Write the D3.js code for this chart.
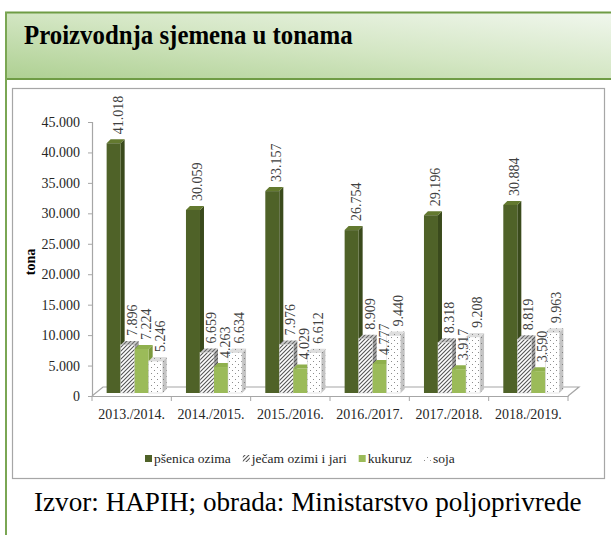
<!DOCTYPE html>
<html><head><meta charset="utf-8">
<script src="https://cdn.jsdelivr.net/npm/d3@7/dist/d3.min.js"></script>
<style>
html,body{margin:0;padding:0;background:#fff;}
svg{display:block;}
text{font-family:"Liberation Serif","Times New Roman",serif;}
</style></head>
<body>
<svg id="c" width="611" height="535"></svg>
<script>
const title = "Proizvodnja sjemena u tonama";
const source = "Izvor: HAPIH; obrada: Ministarstvo poljoprivrede";
const yTitle = "tona";
const categories = ["2013./2014.","2014./2015.","2015./2016.","2016./2017.","2017./2018.","2018./2019."];
const seriesNames = ["pšenica ozima","ječam ozimi i jari","kukuruz","soja"];
const psenica = [41018,30059,33157,26754,29196,30884];
const jecam = [7896,6659,7976,8909,8318,8819];
const kukuruz = [7224,4263,4029,4777,3917,3590];
const soja = [5246,6634,6612,9440,9208,9963];
const yTicks = [0,5000,10000,15000,20000,25000,30000,35000,40000,45000];

const seriesValues = [psenica, jecam, kukuruz, soja];
const loc = d3.formatLocale({decimal:",", thousands:".", grouping:[3], currency:["",""]});
const fmt = loc.format(",d");

const svg = d3.select("#c");
const defs = svg.append("defs");

const g1 = defs.append("linearGradient").attr("id","hdr").attr("x1","0").attr("y1","1").attr("x2","1").attr("y2","0");
g1.append("stop").attr("offset","0").attr("stop-color","#aed092");
g1.append("stop").attr("offset","0.5").attr("stop-color","#d3e6c3");
g1.append("stop").attr("offset","1").attr("stop-color","#f1f7ee");

function hatch(id, bg, fg){
  const p = defs.append("pattern").attr("id",id).attr("patternUnits","userSpaceOnUse").attr("width",4).attr("height",4);
  p.append("rect").attr("width",4).attr("height",4).attr("fill",bg);
  p.append("path").attr("d","M-1,1 L1,-1 M0,4 L4,0 M3,5 L5,3").attr("stroke",fg).attr("stroke-width",1.1);
}
function dots(id, bg, fg){
  const p = defs.append("pattern").attr("id",id).attr("patternUnits","userSpaceOnUse").attr("width",6).attr("height",6);
  p.append("rect").attr("width",6).attr("height",6).attr("fill",bg);
  p.append("rect").attr("x",1).attr("y",1).attr("width",1).attr("height",1).attr("fill",fg);
  p.append("rect").attr("x",4).attr("y",4).attr("width",1).attr("height",1).attr("fill",fg);
}
hatch("hF","#ffffff","#555555");
hatch("hS","#a6a6a6","#555555");
hatch("hT","#cfcfcf","#666666");
dots("dF","#ffffff","#8c8c8c");
dots("dS","#c4c4c4","#808080");
dots("dT","#dedede","#8c8c8c");

const styles = [
  {front:"#4f6228", side:"#3a4a1c", top:"#63792f", legend:"#4f6228"},
  {front:"url(#hF)", side:"url(#hS)", top:"url(#hT)", legend:"url(#hF)"},
  {front:"#9bbb59", side:"#7c9a3e", top:"#8fb04d", legend:"#9bbb59"},
  {front:"url(#dF)", side:"url(#dS)", top:"url(#dT)", legend:"url(#dF)"}
];

// Frame
svg.append("rect").attr("x",6).attr("y",12).attr("width",610).attr("height",67).attr("fill","url(#hdr)");
svg.append("line").attr("x1",5).attr("x2",611).attr("y1",12.5).attr("y2",12.5).attr("stroke","#6f9c45").attr("stroke-width",2);
svg.append("line").attr("x1",5).attr("x2",611).attr("y1",79).attr("y2",79).attr("stroke","#6f9c45").attr("stroke-width",2);
svg.append("line").attr("x1",6).attr("x2",6).attr("y1",12).attr("y2",535).attr("stroke","#7aa653").attr("stroke-width",2);
svg.append("text").attr("transform","translate(24,44) scale(0.92,1)").attr("font-size",27).attr("font-weight","bold").attr("fill","#000").text(title);

svg.append("rect").attr("x",12.5).attr("y",88.5).attr("width",592).attr("height",390).attr("fill","#fff").attr("stroke","#a6a6a6").attr("stroke-width",1.2);

svg.append("text").attr("transform","translate(34,511) scale(0.97,1)").attr("font-size",28).attr("fill","#000").text(source);

const x = d3.scaleBand().domain(categories).range([92,568]).paddingInner(0).paddingOuter(0);
const xs = d3.scaleBand().domain(seriesNames).range([0,x.bandwidth()]).paddingInner(0).paddingOuter(0.83);
const y = d3.scaleLinear().domain([0,45000]).range([396,122]);

const fdx = 11, fdy = 9;
const bdx = 3, bdy = 3;
const d = 4;

const y0 = y(0), xL = x.range()[0], xR = x.range()[1];
svg.append("path")
  .attr("d",`M${xL},${y0} L${xL+fdx},${y0-fdy} L${xR+fdx},${y0-fdy} L${xR},${y0}`)
  .attr("fill","none").attr("stroke","#a6a6a6").attr("stroke-width",1.2);

const ya = svg.append("g").attr("transform",`translate(${xL},0)`)
  .call(d3.axisLeft(y).tickValues(yTicks).tickSize(4).tickPadding(8).tickFormat(fmt));
ya.select(".domain").attr("stroke","#a6a6a6").attr("stroke-width",1.2);
ya.selectAll(".tick line").attr("stroke","#a6a6a6");
ya.selectAll("text").attr("font-size",14).attr("fill","#262626").attr("font-family","Liberation Serif");

const xa = svg.append("g").attr("transform",`translate(0,${y0})`)
  .call(d3.axisBottom(x).tickSize(0).tickPadding(13));
xa.select(".domain").attr("stroke","#a6a6a6").attr("stroke-width",1.2);
xa.selectAll("text").attr("font-size",14).attr("fill","#262626").attr("font-family","Liberation Serif");
const bounds = categories.map(c => x(c)).concat([xR]);
xa.selectAll("line.bnd").data(bounds).enter().append("line").attr("class","bnd")
  .attr("x1",v=>v).attr("x2",v=>v).attr("y1",0).attr("y2",5).attr("stroke","#a6a6a6");

const bars = svg.append("g");
categories.forEach((c,ci) => {
  seriesNames.forEach((s,si) => {
    const v = seriesValues[si][ci];
    const st = styles[si];
    const x0 = x(c) + xs(s) + bdx;
    const w = xs.bandwidth();
    const top = y(v) - bdy, bot = y0 - bdy;
    const g = bars.append("g");
    g.append("path").attr("d",`M${x0+w},${top} L${x0+w+d},${top-d} L${x0+w+d},${bot-d} L${x0+w},${bot} Z`).attr("fill",st.side);
    g.append("path").attr("d",`M${x0},${top} L${x0+d},${top-d} L${x0+w+d},${top-d} L${x0+w},${top} Z`).attr("fill",st.top);
    g.append("rect").attr("x",x0).attr("y",top).attr("width",w).attr("height",bot-top).attr("fill",st.front);
    if (si===1 || si===3) g.append("rect").attr("x",x0).attr("y",top).attr("width",w).attr("height",bot-top).attr("fill","none").attr("stroke","#d0d0d0").attr("stroke-width",0.5);
  });
});
const labs = svg.append("g");
categories.forEach((c,ci) => {
  seriesNames.forEach((s,si) => {
    const v = seriesValues[si][ci];
    const lx = x(c) + xs(s) + bdx + xs.bandwidth()/2 + 9;
    const ly = y(v) - bdy - d - 5;
    labs.append("text").attr("transform",`translate(${lx},${ly}) rotate(-90)`)
      .attr("font-size",14).attr("fill","#404040").text(fmt(v));
  });
});

svg.append("text").attr("transform","translate(35,262) rotate(-90)").attr("text-anchor","middle")
  .attr("font-size",14).attr("font-weight","bold").attr("fill","#000").text(yTitle);

const lg = svg.append("g");
let lxp = 145;
seriesNames.forEach((s,si) => {
  lg.append("rect").attr("x",lxp).attr("y",455).attr("width",7).attr("height",7).attr("fill",styles[si].legend);
  const t = lg.append("text").attr("x",lxp+9).attr("y",463).attr("font-size",13.5).attr("fill","#262626").text(s);
  lxp += 9 + t.node().getComputedTextLength() + 12;
});
</script>
</body></html>
